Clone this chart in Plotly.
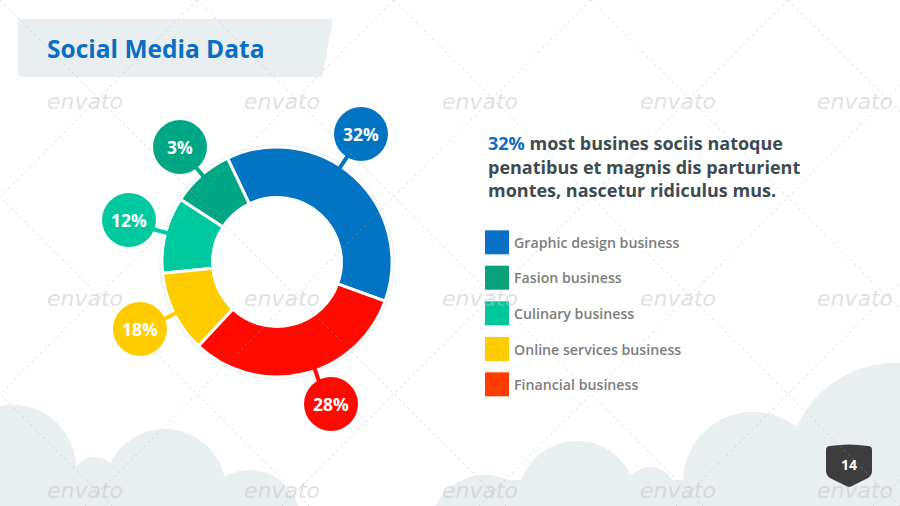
import math
import plotly.graph_objects as go

# ---- data ----
categories = ["Graphic design business", "Fasion business", "Culinary business",
              "Online services business", "Financial business"]
slice_share = [37.6, 8.75, 10.7, 11.5, 31.4]      # slice sizes as drawn (percent of ring)
label_pct = [32, 3, 12, 18, 28]                    # percentages printed in the bubbles
slice_colors = ["#0373c3", "#00a785", "#00c9a0", "#ffcc00", "#ff0a00"]
legend_colors = ["#0a70c8", "#0aa17c", "#00c89c", "#ffcc00", "#ff3c00"]
title_text = "Social Media Data"
para_lines = ["<span style='color:#0a6fc2'>32%</span> most busines sociis natoque",
              "penatibus et magnis dis parturient",
              "montes, nascetur ridiculus mus."]
page_number = "14"

# bubble layout (styling / positions)
bubble_xy = [(361, 134), (180, 147), (129, 220), (140, 329), (331, 404)]
stub_angle = [33.7, 319.4, 284.8, 243.2, 160.6]
CX, CY, R_OUT = 277, 262, 115
W, H = 900, 506

fig = go.Figure()

# donut
fig.add_trace(go.Pie(
    labels=categories, values=slice_share, sort=False, direction="counterclockwise",
    rotation=-25.5, hole=0.56, textinfo="none", hoverinfo="label",
    marker=dict(colors=slice_colors, line=dict(color="white", width=3)),
    domain=dict(x=[(CX - R_OUT) / W, (CX + R_OUT) / W],
                y=[1 - (CY + R_OUT) / H, 1 - (CY - R_OUT) / H]),
    showlegend=False,
))

# custom legend squares
legend_y = [242.3, 277.7, 313.3, 349, 384.3]
fig.add_trace(go.Scatter(
    x=[497] * len(categories), y=legend_y, mode="markers",
    marker=dict(symbol="square", size=24, color=legend_colors, line=dict(width=0)),
    hoverinfo="skip", showlegend=False,
))

shapes = []
cloud = "#e9eef1"
# clouds (bottom)
for (cx, cy, r) in [(13, 468, 63), (95, 480, 23), (165, 490, 61), (250, 520, 50),
                    (485, 530, 55), (577, 500, 59), (650, 492, 25), (753, 482, 70),
                    (895, 470, 107)]:
    shapes.append(dict(type="circle", xref="x", yref="y", x0=cx - r, x1=cx + r,
                       y0=cy - r, y1=cy + r, fillcolor=cloud, line=dict(width=0),
                       layer="below"))
shapes.append(dict(type="rect", xref="x", yref="y", x0=0, x1=255, y0=480, y1=506,
                   fillcolor=cloud, line=dict(width=0), layer="below"))
shapes.append(dict(type="rect", xref="x", yref="y", x0=470, x1=900, y0=480, y1=506,
                   fillcolor=cloud, line=dict(width=0), layer="below"))
# title banner
shapes.append(dict(type="path", xref="x", yref="y",
                   path="M 18,19 L 333,19 L 322,77 L 18,77 Z",
                   fillcolor="#e9eef1", line=dict(width=0), layer="below"))
# faint halo ring around donut
shapes.append(dict(type="circle", xref="x", yref="y", x0=CX - R_OUT - 1, x1=CX + R_OUT + 1,
                   y0=CY - R_OUT - 1, y1=CY + R_OUT + 1,
                   line=dict(color="#e8eef4", width=3), layer="below"))

# stubs and bubbles
for (bx, by), ang, col in zip(bubble_xy, stub_angle, slice_colors):
    a = math.radians(ang)
    r0, r1 = R_OUT - 3, R_OUT + 14
    shapes.append(dict(type="line", xref="x", yref="y",
                       x0=CX + r0 * math.sin(a), y0=CY - r0 * math.cos(a),
                       x1=CX + r1 * math.sin(a), y1=CY - r1 * math.cos(a),
                       line=dict(color=col, width=4), layer="above"))
    shapes.append(dict(type="circle", xref="x", yref="y", x0=bx - 27, x1=bx + 27,
                       y0=by - 27, y1=by + 27, fillcolor=col, line=dict(width=0),
                       layer="above"))

# page badge
shapes.append(dict(type="path", xref="x", yref="y",
                   path="M 826,450 Q 826,446 830,446 Q 849,443 868,446 Q 872,446 872,450 "
                        "L 872,471 Q 872,475 868,478 L 852,486 Q 849,488 846,486 "
                        "L 830,478 Q 826,475 826,471 Z",
                   fillcolor="#3d3d3d", line=dict(width=0), layer="above"))

# faint diagonal dashed pattern
step = 197
for k in range(-3, 8):
    c = k * step
    shapes.append(dict(type="line", xref="x", yref="y", x0=c, y0=0, x1=c + 520, y1=520,
                       line=dict(color="rgba(170,170,170,0.5)", width=0.7, dash="3px,3px"),
                       layer="above"))
for k in range(0, 10):
    c = k * step
    shapes.append(dict(type="line", xref="x", yref="y", x0=c, y0=0, x1=c - 520, y1=520,
                       line=dict(color="rgba(170,170,170,0.5)", width=0.7, dash="3px,3px"),
                       layer="above"))

annotations = []
annotations.append(dict(x=45, y=48, xref="x", yref="y", text="<b>" + title_text + "</b>",
                        showarrow=False, xanchor="left", yanchor="middle",
                        font=dict(family="Open Sans", size=24.5, color="#0a6fc2")))
for txt, yy in zip(para_lines, [143, 167, 190]):
    annotations.append(dict(x=486, y=yy, xref="x", yref="y", text="<b>" + txt + "</b>",
                            showarrow=False, xanchor="left", yanchor="middle",
                            font=dict(family="Open Sans", size=18, color="#3d4b50")))
for cat, yy in zip(categories, legend_y):
    annotations.append(dict(x=512, y=yy, xref="x", yref="y", text=cat,
                            showarrow=False, xanchor="left", yanchor="middle",
                            font=dict(family="Open Sans", size=14.2, color="#7d7d7d",
                                      weight=600)))
for (bx, by), p in zip(bubble_xy, label_pct):
    annotations.append(dict(x=bx, y=by, xref="x", yref="y", text="<b>%d%%</b>" % p,
                            showarrow=False, xanchor="center", yanchor="middle",
                            font=dict(family="Open Sans", size=17.5, color="white")))
annotations.append(dict(x=849, y=464, xref="x", yref="y", text="<b>" + page_number + "</b>",
                        showarrow=False, xanchor="center", yanchor="middle",
                        font=dict(family="Open Sans", size=14, color="white")))
# watermarks (kept inside the page)
for wy in [101, 298, 490]:
    for wx in [45, 242, 440, 638, 815]:
        annotations.append(dict(x=wx, y=wy, xref="x", yref="y",
                                text="<i>envato</i>", showarrow=False,
                                xanchor="left", yanchor="middle",
                                font=dict(family="DejaVu Sans", size=22,
                                          color="rgba(195,195,195,0.5)")))

fig.update_layout(
    width=W, height=H, margin=dict(l=0, r=0, t=0, b=0),
    paper_bgcolor="white", plot_bgcolor="rgba(0,0,0,0)",
    xaxis=dict(range=[0, W], visible=False, fixedrange=True),
    yaxis=dict(range=[H, 0], visible=False, fixedrange=True),
    shapes=shapes, annotations=annotations, showlegend=False,
)

fig.write_html("out.html")
